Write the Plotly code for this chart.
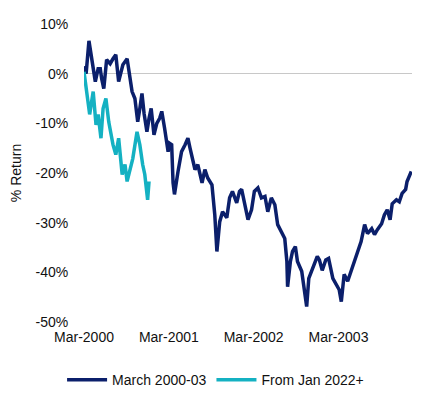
import plotly.graph_objects as go

# Months since start of each episode
navy_months = [0.0,0.3,0.7,1.1,1.6,2.0,2.3,2.5,2.8,3.2,3.7,4.1,4.5,4.9,5.2,5.5,6.1,6.4,6.8,7.2,7.6,7.9,8.2,8.5,8.9,9.2,9.5,9.9,10.3,10.7,11.0,11.4,11.9,12.1,12.4,12.6,12.8,13.3,13.6,13.8,14.3,14.7,15.0,15.2,15.7,16.1,16.4,16.7,17.1,17.5,18.1,18.5,18.8,19.2,19.6,20.2,20.6,21.0,21.6,22.0,22.3,22.7,23.2,23.7,24.1,24.6,25.1,25.6,26.0,26.5,27.0,27.4,28.0,28.4,28.7,28.8,29.2,29.5,29.9,30.2,30.8,31.2,31.5,31.8,32.2,32.6,33.0,33.3,33.7,34.2,34.6,35.2,35.7,36.1,36.4,36.8,37.3,37.8,38.3,38.7,39.2,39.7,40.1,40.7,41.1,41.5,42.1,42.5,42.9,43.3,43.6,44.2,44.6,45.0,45.5,45.7,46.3]
navy_vals = [1.5,0.0,6.6,3.0,-1.6,1.0,1.0,-1.0,-3.0,2.8,2.0,3.0,3.8,-1.6,0.0,1.8,3.0,0.0,-3.6,-5.0,-9.7,-7.0,-4.0,-8.0,-11.7,-9.0,-7.0,-12.3,-10.0,-9.0,-7.6,-11.0,-15.7,-14.0,-14.3,-22.0,-24.3,-19.7,-17.0,-15.7,-14.3,-13.0,-15.0,-16.3,-19.3,-18.3,-20.0,-22.0,-19.3,-21.0,-22.4,-28.4,-35.8,-29.8,-27.8,-29.0,-25.0,-23.7,-26.0,-23.7,-23.3,-26.4,-29.4,-27.4,-23.7,-23.0,-25.0,-24.7,-27.8,-25.0,-26.4,-30.4,-32.2,-33.2,-37.8,-42.9,-37.8,-35.8,-34.8,-37.8,-39.8,-43.9,-46.9,-41.2,-39.8,-38.4,-36.8,-37.5,-39.6,-37.5,-37.2,-41.2,-42.5,-43.5,-45.9,-40.4,-41.8,-39.8,-37.8,-35.8,-33.8,-30.4,-32.2,-31.2,-32.4,-31.4,-30.2,-28.4,-27.4,-29.4,-26.2,-25.4,-25.8,-24.1,-23.3,-21.7,-19.7]

teal_months = [0.0,0.4,0.8,1.3,1.7,2.0,2.4,2.7,3.1,3.5,4.1,4.5,4.9,5.4,5.8,6.1,6.5,6.9,7.5,7.9,8.3,8.6,9.0,9.2]
teal_vals = [0.4,-3.6,-8.2,-3.6,-10.3,-8.2,-13.0,-7.0,-5.0,-9.7,-14.3,-16.3,-13.0,-20.3,-18.3,-21.7,-19.0,-17.1,-11.7,-14.3,-18.3,-20.3,-25.4,-21.7]

tick_pos = [0, 12, 24, 36]
tick_labels = ["Mar-2000", "Mar-2001", "Mar-2002", "Mar-2003"]
y_ticks = [10, 0, -10, -20, -30, -40, -50]

NAVY = "#0B1F6B"
TEAL = "#14B1C2"
FONT = "Liberation Sans, Arial, sans-serif"

fig = go.Figure()
fig.add_trace(go.Scatter(x=navy_months, y=navy_vals, mode="lines", name="March 2000-03",
                         line=dict(color=NAVY, width=3.5)))
fig.add_trace(go.Scatter(x=teal_months, y=teal_vals, mode="lines", name="From Jan 2022+",
                         line=dict(color=TEAL, width=3.5)))

fig.update_layout(
    width=437, height=398,
    margin=dict(l=76, r=33, t=16, b=84, autoexpand=False),
    paper_bgcolor="white", plot_bgcolor="white",
    font=dict(family=FONT, size=14, color="#111111"),
    showlegend=True,
    legend=dict(orientation="h", xref="container", x=0.475, xanchor="center",
                yref="container", y=0.065, yanchor="middle",
                font=dict(size=14), itemwidth=40, traceorder="normal"),
    xaxis=dict(range=[0, 46.4], tickvals=tick_pos, ticktext=tick_labels,
               showgrid=False, zeroline=False, showline=False,
               ticks="outside", ticklen=2, tickcolor="rgba(0,0,0,0)",
               tickfont=dict(size=14)),
    yaxis=dict(range=[-50, 10], tickvals=y_ticks, ticktext=[f"{v}%" for v in y_ticks],
               showgrid=False, zeroline=True, zerolinecolor="#C8C8C8", zerolinewidth=1,
               showline=False, ticks="outside", ticklen=12, tickcolor="rgba(0,0,0,0)",
               tickfont=dict(size=14),
               title=dict(text="% Return", font=dict(size=14), standoff=14)),
)

fig.write_html("out.html")
